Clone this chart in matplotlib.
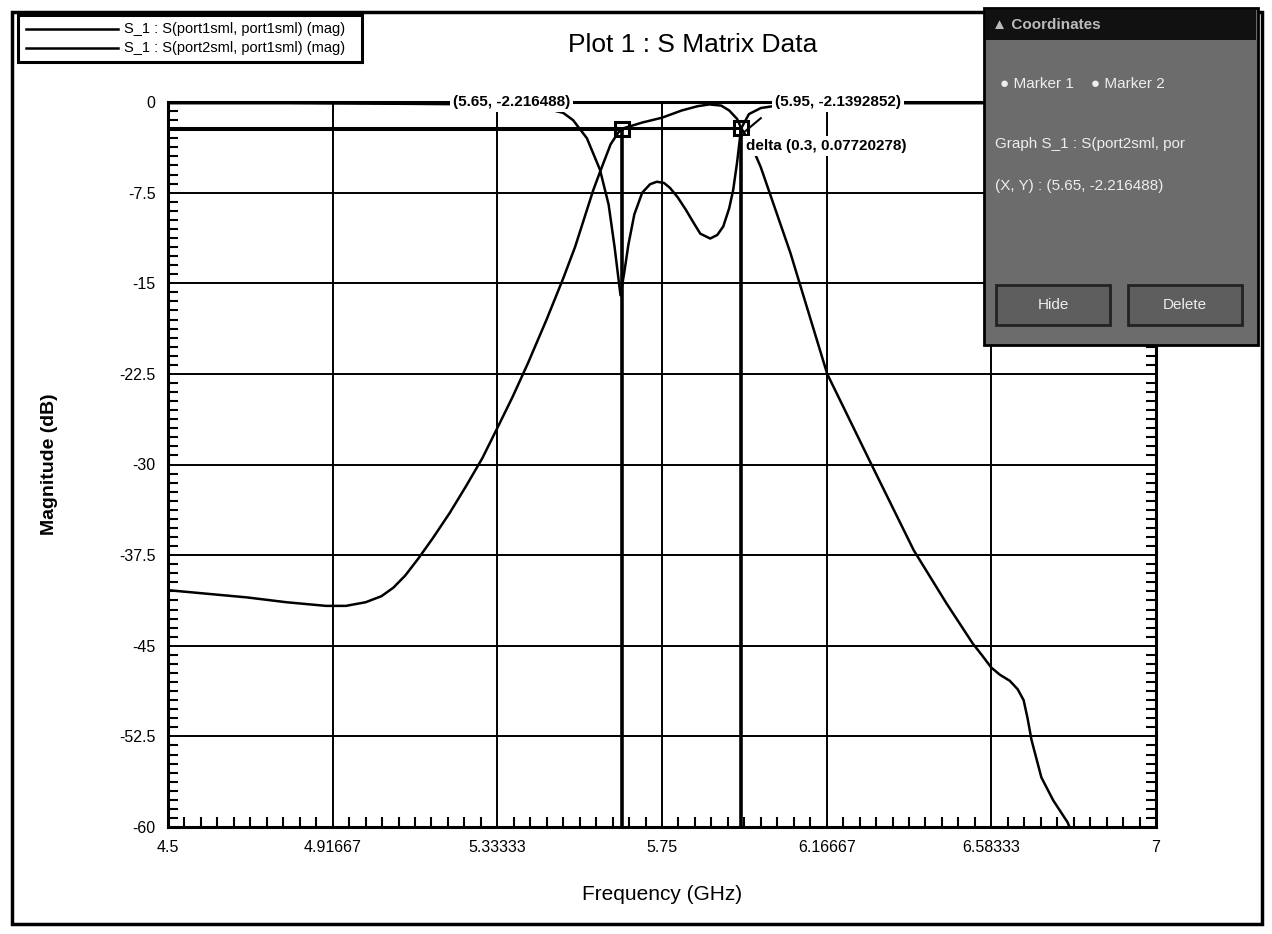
import numpy as np
import matplotlib
matplotlib.use("Agg")
import matplotlib.pyplot as plt
from matplotlib.patches import Rectangle
from matplotlib.ticker import MultipleLocator, FixedLocator

plt.rcParams['font.family'] = ['Liberation Sans', 'DejaVu Sans']

# S(port1sml, port1sml) - return loss
s11_f = [4.5, 4.8, 5.1, 5.3, 5.4, 5.45, 5.5, 5.525, 5.56, 5.593, 5.615, 5.63,
         5.645, 5.655, 5.665, 5.68, 5.70, 5.72, 5.737, 5.755, 5.77, 5.79, 5.81,
         5.83, 5.847, 5.872, 5.89, 5.905, 5.92, 5.93, 5.94, 5.95, 5.97, 6.0,
         6.05, 6.1, 6.3, 6.6, 7.0]
s11_db = [-0.1, -0.1, -0.15, -0.2, -0.3, -0.5, -0.9, -1.5, -3.0, -5.6, -8.5, -12.0,
          -16.0, -14.0, -11.8, -9.3, -7.5, -6.8, -6.6, -6.7, -7.1, -7.9, -8.9,
          -10.0, -10.9, -11.3, -11.0, -10.3, -8.8, -7.3, -5.0, -2.2, -1.0, -0.5,
          -0.25, -0.15, -0.1, -0.1, -0.1]

# S(port2sml, port1sml) - transmission
s21_f = [4.5, 4.6, 4.7, 4.8, 4.9, 4.95, 5.0, 5.04, 5.07, 5.1, 5.133, 5.17, 5.213,
         5.254, 5.295, 5.333, 5.372, 5.411, 5.458, 5.5, 5.53, 5.576, 5.593, 5.62,
         5.64, 5.65, 5.7, 5.75, 5.8, 5.84, 5.87, 5.9, 5.92, 5.94, 5.95, 5.975, 6.0,
         6.075, 6.168, 6.28, 6.387, 6.47, 6.536, 6.56, 6.583, 6.605, 6.63, 6.65,
         6.665, 6.675, 6.685, 6.71, 6.74, 6.776, 6.8]
s21_db = [-40.4, -40.7, -41.0, -41.4, -41.7, -41.7, -41.4, -40.9, -40.2, -39.2, -37.8,
          -36.1, -34.0, -31.8, -29.5, -27.0, -24.4, -21.6, -18.0, -14.6, -12.0, -7.3,
          -5.8, -3.5, -2.5, -2.2, -1.7, -1.3, -0.7, -0.35, -0.2, -0.3, -0.7, -1.4,
          -2.14, -3.5, -5.4, -12.5, -22.5, -30.0, -37.1, -41.5, -44.8, -45.8, -46.8,
          -47.4, -47.9, -48.6, -49.5, -51.0, -52.8, -55.9, -57.8, -59.6, -61.5]

x_ticks = [4.5, 4.5 + 5 / 12, 4.5 + 10 / 12, 5.75, 4.5 + 20 / 12, 4.5 + 25 / 12, 7.0]
x_labels = ["4.5", "4.91667", "5.33333", "5.75", "6.16667", "6.58333", "7"]
y_ticks = [0, -7.5, -15, -22.5, -30, -37.5, -45, -52.5, -60]
y_labels = ["0", "-7.5", "-15", "-22.5", "-30", "-37.5", "-45", "-52.5", "-60"]

marker1 = (5.65, -2.216488)
marker2 = (5.95, -2.1392852)
delta = (0.3, 0.07720278)

W, H = 1272, 934
fig = plt.figure(figsize=(W / 100, H / 100), dpi=100)
fig.patch.set_facecolor("white")

def fx(px):
    return px / W

def fy(py):
    return 1 - py / H

ax = fig.add_axes([fx(168), fy(827), fx(1156) - fx(168), fy(102) - fy(827)])
ax.set_xlim(4.5, 7.0)
ax.set_ylim(-60, 0)

ax.xaxis.set_major_locator(FixedLocator(x_ticks))
ax.set_xticklabels(x_labels)
ax.yaxis.set_major_locator(FixedLocator(y_ticks))
ax.set_yticklabels(y_labels)
ax.xaxis.set_minor_locator(MultipleLocator(5 / 120))
ax.yaxis.set_minor_locator(MultipleLocator(0.75))
ax.tick_params(which="both", direction="in", labelsize=11.5)
ax.tick_params(which="major", length=0, pad=9)
ax.tick_params(which="minor", length=7, width=1.5)
ax.tick_params(which="minor", axis="y", right=True)
ax.grid(True, which="major", color="black", linewidth=1.4)
ax.set_axisbelow(True)
for s in ax.spines.values():
    s.set_linewidth(2.2)

ax.plot(s11_f, s11_db, color="black", linewidth=1.8)
ax.plot(s21_f, s21_db, color="black", linewidth=1.8)

# marker lines
for (mx, my) in (marker1, marker2):
    ax.plot([4.5, mx], [my, my], color="black", linewidth=2.2)
    ax.plot([mx, mx], [my, -60], color="black", linewidth=2.6)
    ax.plot([mx], [my], marker="s", markersize=10, markerfacecolor="none",
            markeredgecolor="black", markeredgewidth=2.2)
ax.plot([marker2[0] + 0.01, marker2[0] + 0.05], [marker2[1] - 0.3, marker2[1] + 0.8],
        color="black", linewidth=1.5)

box = dict(facecolor="white", edgecolor="none", pad=2)
ax.text(5.37, 0, "(5.65, -2.216488)", ha="center", va="center",
        fontsize=11, fontweight="bold", bbox=box, clip_on=False, zorder=5)
ax.text(6.195, 0, "(5.95, -2.1392852)", ha="center", va="center",
        fontsize=11, fontweight="bold", bbox=box, clip_on=False, zorder=5)
ax.text(5.963, -3.65, "delta (%.1f, %s)" % delta, ha="left", va="center",
        fontsize=11, fontweight="bold", bbox=box, zorder=5)

ax.set_xlabel("Frequency (GHz)", fontsize=15, labelpad=22)
ax.set_ylabel("Magnitude (dB)", fontsize=14, fontweight="bold", labelpad=44)

fig.text(fx(693), fy(45), "Plot 1 : S Matrix Data", ha="center", va="center", fontsize=19)

# outer frame
fig.patches.append(Rectangle((fx(12), fy(924)), fx(1262) - fx(12), fy(12) - fy(924),
                             transform=fig.transFigure, fill=False, edgecolor="black",
                             linewidth=2.5))

# legend box
fig.patches.append(Rectangle((fx(18), fy(62)), fx(362) - fx(18), fy(15) - fy(62),
                             transform=fig.transFigure, facecolor="white", edgecolor="black",
                             linewidth=2.2, zorder=3))
for py, name in ((29, "S_1 : S(port1sml, port1sml) (mag)"),
                 (48, "S_1 : S(port2sml, port1sml) (mag)")):
    fig.lines.append(plt.Line2D([fx(26), fx(118)], [fy(py), fy(py)], transform=fig.transFigure,
                                color="black", linewidth=1.8, zorder=4))
    fig.text(fx(124), fy(py), name, ha="left", va="center", fontsize=10.5, zorder=4)

# coordinates dialog
fig.patches.append(Rectangle((fx(984), fy(345)), fx(1258) - fx(984), fy(8) - fy(345),
                             transform=fig.transFigure, facecolor="#6c6c6c", edgecolor="black",
                             linewidth=2, zorder=6))
fig.patches.append(Rectangle((fx(986), fy(40)), fx(1256) - fx(986), fy(10) - fy(40),
                             transform=fig.transFigure, facecolor="#111111", edgecolor="none",
                             zorder=7))
fig.text(fx(992), fy(25), "\u25b2 Coordinates", color="#bbbbbb", fontsize=11,
         fontweight="bold", ha="left", va="center", zorder=8)
fig.text(fx(1000), fy(84), "\u25cf Marker 1    \u25cf Marker 2", color="#eeeeee", fontsize=11,
         ha="left", va="center", zorder=8)
fig.text(fx(995), fy(144), "Graph S_1 : S(port2sml, por", color="#eeeeee", fontsize=11,
         ha="left", va="center", zorder=8)
fig.text(fx(995), fy(186), "(X, Y) : (5.65, -2.216488)", color="#eeeeee", fontsize=11,
         ha="left", va="center", zorder=8)
for x0, x1, lab in ((996, 1110, "Hide"), (1128, 1242, "Delete")):
    fig.patches.append(Rectangle((fx(x0), fy(325)), fx(x1) - fx(x0), fy(285) - fy(325),
                                 transform=fig.transFigure, facecolor="#5e5e5e",
                                 edgecolor="#222222", linewidth=2, zorder=7))
    fig.text(fx((x0 + x1) / 2), fy(305), lab, color="#eeeeee", fontsize=11,
             ha="center", va="center", zorder=8)

fig.savefig("out.png", dpi=100)
plt.close(fig)
